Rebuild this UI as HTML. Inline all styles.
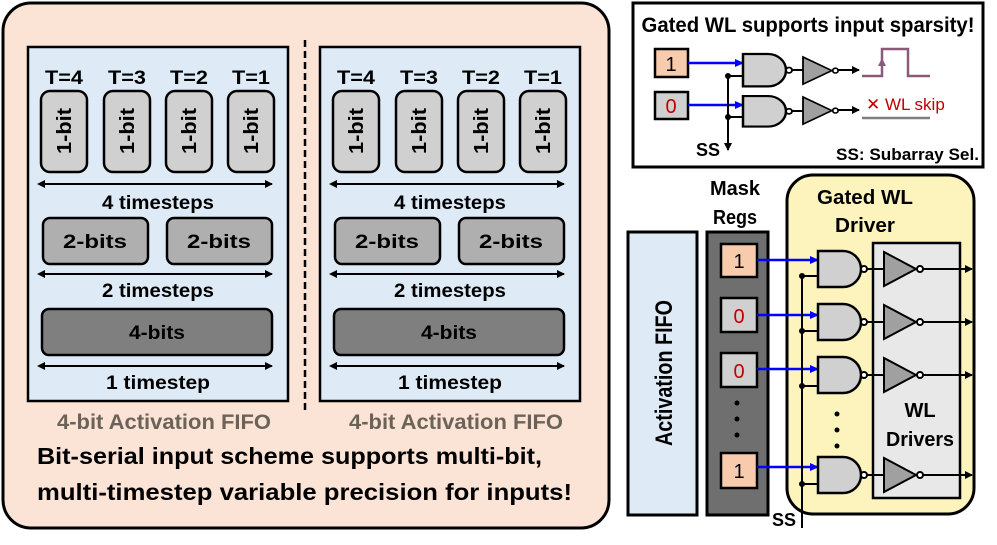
<!DOCTYPE html>
<html><head><meta charset="utf-8"><style>
html,body{margin:0;padding:0;background:#fff;width:997px;height:545px;overflow:hidden}
svg{display:block}
text{font-family:"Liberation Sans",sans-serif;font-weight:bold}
</style></head><body>
<svg width="997" height="545" viewBox="0 0 997 545" xmlns="http://www.w3.org/2000/svg">
<defs>
<marker id="ab" markerWidth="8" markerHeight="8" refX="7" refY="4" orient="auto" markerUnits="userSpaceOnUse"><path d="M0,0 L8,4 L0,8 z" fill="#000"/></marker>
<marker id="abs" markerWidth="8" markerHeight="8" refX="1" refY="4" orient="auto-start-reverse" markerUnits="userSpaceOnUse"><path d="M0,0 L8,4 L0,8 z" fill="#000"/></marker>
<marker id="ablue" markerWidth="9" markerHeight="8" refX="8" refY="4" orient="auto" markerUnits="userSpaceOnUse"><path d="M0,0 L9,4 L0,8 z" fill="#0000ff"/></marker>
<g id="fifo">
  <rect x="28" y="47" width="260" height="354" fill="#deebf7" stroke="#000" stroke-width="2.5"/>
  <g font-size="19" text-anchor="middle">
    <text x="64" y="84" textLength="38" lengthAdjust="spacingAndGlyphs">T=4</text><text x="127" y="84" textLength="38" lengthAdjust="spacingAndGlyphs">T=3</text><text x="189" y="84" textLength="38" lengthAdjust="spacingAndGlyphs">T=2</text><text x="251" y="84" textLength="38" lengthAdjust="spacingAndGlyphs">T=1</text>
  </g>
  <g fill="#d0d0d0" stroke="#000" stroke-width="2.5">
    <rect x="41" y="91" width="46" height="81" rx="9"/>
    <rect x="104" y="91" width="46" height="81" rx="9"/>
    <rect x="166" y="91" width="46" height="81" rx="9"/>
    <rect x="228" y="91" width="46" height="81" rx="9"/>
  </g>
  <g font-size="20" text-anchor="middle">
    <text transform="translate(71,131) rotate(-90)" textLength="46" lengthAdjust="spacingAndGlyphs">1-bit</text>
    <text transform="translate(134,131) rotate(-90)" textLength="46" lengthAdjust="spacingAndGlyphs">1-bit</text>
    <text transform="translate(196,131) rotate(-90)" textLength="46" lengthAdjust="spacingAndGlyphs">1-bit</text>
    <text transform="translate(258,131) rotate(-90)" textLength="46" lengthAdjust="spacingAndGlyphs">1-bit</text>
  </g>
  <line x1="44" y1="184" x2="272" y2="184" stroke="#000" stroke-width="2" marker-start="url(#abs)" marker-end="url(#ab)"/>
  <text x="158" y="209" font-size="19" text-anchor="middle" textLength="112" lengthAdjust="spacingAndGlyphs">4 timesteps</text>
  <rect x="43" y="218" width="105" height="46" rx="7" fill="#afafaf" stroke="#000" stroke-width="2.5"/>
  <rect x="167" y="218" width="105" height="46" rx="7" fill="#afafaf" stroke="#000" stroke-width="2.5"/>
  <text x="95" y="248" font-size="19" text-anchor="middle" textLength="64" lengthAdjust="spacingAndGlyphs">2-bits</text>
  <text x="219" y="248" font-size="19" text-anchor="middle" textLength="64" lengthAdjust="spacingAndGlyphs">2-bits</text>
  <line x1="44" y1="274" x2="272" y2="274" stroke="#000" stroke-width="2" marker-start="url(#abs)" marker-end="url(#ab)"/>
  <text x="158" y="297" font-size="19" text-anchor="middle" textLength="112" lengthAdjust="spacingAndGlyphs">2 timesteps</text>
  <rect x="42" y="309" width="230" height="46" rx="7" fill="#7f7f7f" stroke="#000" stroke-width="2.5"/>
  <text x="157" y="339" font-size="19" text-anchor="middle" textLength="56" lengthAdjust="spacingAndGlyphs">4-bits</text>
  <line x1="44" y1="366" x2="272" y2="366" stroke="#000" stroke-width="2" marker-start="url(#abs)" marker-end="url(#ab)"/>
  <text x="158" y="389" font-size="19" text-anchor="middle" textLength="104" lengthAdjust="spacingAndGlyphs">1 timestep</text>
  <text x="164" y="429" font-size="21" text-anchor="middle" fill="#6b6358" textLength="214" lengthAdjust="spacingAndGlyphs">4-bit Activation FIFO</text>
</g>
<g id="gate"><path d="M0,0 H25 A18,18 0 0 1 25,36 H0 Z" fill="#d0d0d0" stroke="#000" stroke-width="2.5"/><circle cx="46" cy="18" r="3" fill="#fff" stroke="#000" stroke-width="2"/></g>
<g id="buf"><path d="M0,0 L32,17 L0,34 Z" fill="#a0a0a0" stroke="#000" stroke-width="2"/><circle cx="36" cy="17" r="3" fill="#fff" stroke="#000" stroke-width="2"/></g>
</defs>

<!-- Left panel -->
<rect x="3" y="3" width="606" height="525" rx="28" fill="#fbe3d6" stroke="#000" stroke-width="3"/>
<use href="#fifo"/>
<use href="#fifo" x="292"/>
<line x1="305" y1="40" x2="305" y2="413" stroke="#000" stroke-width="2.5" stroke-dasharray="7,4"/>
<text x="37" y="464" font-size="23" textLength="505" lengthAdjust="spacingAndGlyphs">Bit-serial input scheme supports multi-bit,</text>
<text x="37" y="500" font-size="23" textLength="535" lengthAdjust="spacingAndGlyphs">multi-timestep variable precision for inputs!</text>

<!-- Top right -->
<rect x="633" y="3" width="350" height="164" fill="#fff" stroke="#000" stroke-width="3"/>
<text x="808" y="32" font-size="21" text-anchor="middle" textLength="333" lengthAdjust="spacingAndGlyphs">Gated WL supports input sparsity!</text>
<rect x="655" y="49" width="33" height="28" fill="#f8cbad" stroke="#000" stroke-width="2.5"/>
<text x="671" y="71" font-size="20" style="font-weight:normal" text-anchor="middle">1</text>
<rect x="655" y="92" width="33" height="27" fill="#d0d0d0" stroke="#000" stroke-width="2.5"/>
<text x="671" y="113" font-size="20" style="font-weight:normal" fill="#c00000" text-anchor="middle">0</text>
<line x1="688" y1="63" x2="743" y2="63" stroke="#0000ff" stroke-width="2.5" marker-end="url(#ablue)"/>
<line x1="688" y1="105" x2="743" y2="105" stroke="#0000ff" stroke-width="2.5" marker-end="url(#ablue)"/>
<line x1="728" y1="76" x2="743" y2="76" stroke="#000" stroke-width="2"/>
<line x1="728" y1="117" x2="743" y2="117" stroke="#000" stroke-width="2"/>
<line x1="728" y1="76" x2="728" y2="150" stroke="#000" stroke-width="2" marker-end="url(#ab)"/>
<circle cx="728" cy="76" r="3" fill="#000"/><circle cx="728" cy="117" r="3" fill="#000"/>
<g transform="translate(743,54) scale(1,0.9)"><use href="#gate"/></g>
<g transform="translate(743,96) scale(1,0.85)"><use href="#gate"/></g>
<line x1="791" y1="70" x2="803" y2="70" stroke="#000" stroke-width="2"/>
<line x1="791" y1="111" x2="803" y2="111" stroke="#000" stroke-width="2"/>
<g transform="translate(803,57) scale(0.9,0.8)"><use href="#buf"/></g>
<g transform="translate(803,97) scale(0.9,0.8)"><use href="#buf"/></g>
<line x1="838" y1="70" x2="859" y2="70" stroke="#000" stroke-width="2" marker-end="url(#ab)"/>
<line x1="838" y1="110" x2="859" y2="110" stroke="#000" stroke-width="2" marker-end="url(#ab)"/>
<path d="M862,76 H882 V49 H908 V76 H930" fill="none" stroke="#8b5a7a" stroke-width="2.5"/>
<path d="M878,66 L882,58 L886,66 Z" fill="#8b5a7a"/>
<text x="866" y="110" font-size="17" fill="#c00000" style="font-weight:normal">✕ WL skip</text>
<line x1="862" y1="118" x2="930" y2="118" stroke="#7f7f7f" stroke-width="2.5"/>
<text x="708" y="156" font-size="18" text-anchor="middle">SS</text>
<text x="979" y="160" font-size="17" text-anchor="end" textLength="143" lengthAdjust="spacingAndGlyphs">SS: Subarray Sel.</text>

<!-- Bottom right -->
<rect x="628" y="232" width="69" height="283" fill="#deebf7" stroke="#000" stroke-width="3"/>
<text transform="translate(672,373) rotate(-90)" font-size="24" text-anchor="middle" textLength="146" lengthAdjust="spacingAndGlyphs">Activation FIFO</text>
<rect x="707" y="232" width="61" height="283" fill="#6f6f6f" stroke="#000" stroke-width="3"/>
<text x="735" y="195" font-size="20" text-anchor="middle" textLength="50" lengthAdjust="spacingAndGlyphs">Mask</text>
<text x="735" y="224" font-size="20" text-anchor="middle" textLength="44" lengthAdjust="spacingAndGlyphs">Regs</text>
<rect x="787" y="175" width="187" height="339" rx="26" fill="#fdf4bd" stroke="#000" stroke-width="3"/>
<text x="865" y="204" font-size="20" text-anchor="middle" textLength="96" lengthAdjust="spacingAndGlyphs">Gated WL</text>
<text x="865" y="232" font-size="20" text-anchor="middle" textLength="60" lengthAdjust="spacingAndGlyphs">Driver</text>
<rect x="873" y="243" width="87" height="255" fill="#e8e8e8" stroke="#000" stroke-width="2.5"/>
<text x="920" y="417" font-size="20" text-anchor="middle">WL</text>
<text x="920" y="446" font-size="20" text-anchor="middle" textLength="68" lengthAdjust="spacingAndGlyphs">Drivers</text>

<rect x="721" y="244" width="36" height="33" fill="#f8cbad" stroke="#000" stroke-width="2.5"/>
<text x="739" y="268" font-size="20" style="font-weight:normal" text-anchor="middle">1</text>
<rect x="721" y="298" width="36" height="34" fill="#d0d0d0" stroke="#000" stroke-width="2.5"/>
<text x="739" y="323" font-size="20" style="font-weight:normal" fill="#c00000" text-anchor="middle">0</text>
<rect x="721" y="353" width="36" height="34" fill="#d0d0d0" stroke="#000" stroke-width="2.5"/>
<text x="739" y="378" font-size="20" style="font-weight:normal" fill="#c00000" text-anchor="middle">0</text>
<rect x="721" y="453" width="36" height="35" fill="#f8cbad" stroke="#000" stroke-width="2.5"/>
<text x="739" y="478" font-size="20" style="font-weight:normal" text-anchor="middle">1</text>
<g fill="#000"><circle cx="737" cy="403" r="2.5"/><circle cx="737" cy="419" r="2.5"/><circle cx="737" cy="435" r="2.5"/>
<circle cx="837" cy="414" r="2.5"/><circle cx="837" cy="430" r="2.5"/><circle cx="837" cy="446" r="2.5"/></g>

<g stroke="#0000ff" stroke-width="2.5">
<line x1="757" y1="260" x2="818" y2="260" marker-end="url(#ablue)"/>
<line x1="757" y1="315" x2="818" y2="315" marker-end="url(#ablue)"/>
<line x1="757" y1="369" x2="818" y2="369" marker-end="url(#ablue)"/>
<line x1="757" y1="467" x2="818" y2="467" marker-end="url(#ablue)"/>
</g>
<line x1="802" y1="275" x2="802" y2="528" stroke="#000" stroke-width="2"/>
<g stroke="#000" stroke-width="2">
<line x1="802" y1="276" x2="818" y2="276"/><line x1="802" y1="331" x2="818" y2="331"/>
<line x1="802" y1="386" x2="818" y2="386"/><line x1="802" y1="484" x2="818" y2="484"/>
</g>
<g fill="#000"><circle cx="802" cy="276" r="3"/><circle cx="802" cy="331" r="3"/><circle cx="802" cy="386" r="3"/><circle cx="802" cy="484" r="3"/></g>
<text x="784" y="526" font-size="18" text-anchor="middle">SS</text>

<use href="#gate" x="818" y="251"/>
<use href="#gate" x="818" y="304"/>
<use href="#gate" x="818" y="357"/>
<use href="#gate" x="818" y="457"/>
<g stroke="#000" stroke-width="2">
<line x1="867" y1="269" x2="884" y2="269"/><line x1="867" y1="322" x2="884" y2="322"/>
<line x1="867" y1="375" x2="884" y2="375"/><line x1="867" y1="475" x2="884" y2="475"/>
</g>
<use href="#buf" x="884" y="252"/>
<use href="#buf" x="884" y="305"/>
<use href="#buf" x="884" y="358"/>
<use href="#buf" x="884" y="458"/>
<g stroke="#000" stroke-width="2">
<line x1="923" y1="269" x2="972" y2="269" marker-end="url(#ab)"/>
<line x1="923" y1="322" x2="972" y2="322" marker-end="url(#ab)"/>
<line x1="923" y1="375" x2="972" y2="375" marker-end="url(#ab)"/>
<line x1="923" y1="475" x2="972" y2="475" marker-end="url(#ab)"/>
</g>
</svg>
</body></html>
